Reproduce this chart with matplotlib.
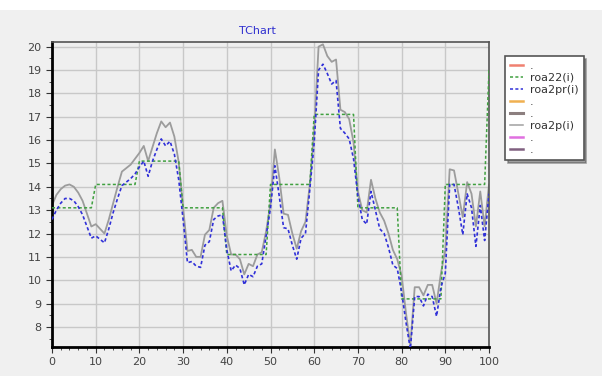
import matplotlib
matplotlib.use("Agg")
import matplotlib.pyplot as plt
from matplotlib.lines import Line2D
from matplotlib.patches import Rectangle
from matplotlib.ticker import MultipleLocator
import numpy as np

# data
x = np.arange(0, 101)

roa22 = ([13.1] * 10 + [14.1] * 10 + [15.1] * 10 + [13.1] * 10 + [11.1] * 10 +
         [14.1] * 10 + [17.1] * 10 + [13.1] * 10 + [9.2] * 10 + [14.1] * 10 + [19.0])

roa2p = [13.2, 13.65, 13.9, 14.05, 14.1, 14.0, 13.75, 13.4, 12.85, 12.3,
         12.4, 12.2, 12.0, 12.6, 13.3, 14.0, 14.65, 14.8, 14.95, 15.2,
         15.45, 15.75, 15.1, 15.7, 16.3, 16.8, 16.55, 16.75, 16.15, 15.05,
         13.1, 11.25, 11.3, 11.0, 11.0, 11.95, 12.15, 13.1, 13.3, 13.4,
         11.9, 11.1, 11.1, 10.9, 10.25, 10.7, 10.6, 11.1, 11.2, 12.1,
         13.3, 15.6, 14.4, 12.85, 12.8, 12.0, 11.35, 12.1, 12.5, 14.1,
         16.4, 20.0, 20.1, 19.6, 19.35, 19.45, 17.3, 17.2, 16.9, 15.9,
         13.8, 13.0, 12.9, 14.3, 13.5, 12.9, 12.55, 12.0, 11.3, 10.9,
         10.2, 8.6, 7.2, 9.7, 9.7, 9.35, 9.8, 9.8, 9.0, 10.3,
         11.3, 14.75, 14.7, 13.7, 12.7, 14.2, 13.7, 12.3, 13.8, 12.3,
         14.1]

roa2pr = [12.6, 13.0, 13.3, 13.5, 13.5, 13.4, 13.15, 12.8, 12.3, 11.8,
          11.9, 11.75, 11.6, 12.2, 12.9, 13.5, 14.05, 14.2, 14.35, 14.55,
          14.85, 15.1, 14.45, 15.1, 15.6, 16.05, 15.75, 15.95, 15.4, 14.3,
          12.6, 10.75, 10.8, 10.6, 10.55, 11.5, 11.65, 12.6, 12.75, 12.8,
          11.3, 10.4, 10.65, 10.5, 9.8, 10.25, 10.15, 10.6, 10.7, 11.9,
          13.1, 14.9, 13.6, 12.25, 12.2, 11.5, 10.9, 11.8, 12.0, 13.9,
          15.9, 19.0, 19.25, 18.85, 18.4, 18.55, 16.5, 16.3, 16.05, 15.2,
          13.6, 12.6, 12.4, 13.8, 13.0, 12.2, 12.0, 11.4, 10.65, 10.5,
          9.5, 8.2, 7.05, 9.3, 9.3, 8.9, 9.4, 9.3, 8.45, 9.7,
          10.3, 14.1, 14.1, 13.1, 11.95, 13.7, 13.1, 11.45, 13.2, 11.7,
          13.7]

legend_labels = [".", "roa22(i)", "roa2pr(i)", ".", ".", "roa2p(i)", ".", "."]
legend_colors = ["#f08070", "#40a040", "#3030d8", "#f0b050", "#8c7f7f",
                 "#a0a0a0", "#e070e0", "#806080"]
legend_styles = ["-", (0, (2, 1.5)), (0, (2, 1.5)), "-", "-", "-", "-", "-"]
legend_widths = [1.8, 1.1, 1.1, 1.8, 2.2, 1.1, 1.8, 1.8]

fig = plt.figure(figsize=(6.02, 3.76), dpi=100, facecolor="#f0f0f0")
fig.patches.append(Rectangle((0, 1 - 10 / 376), 1, 10 / 376, transform=fig.transFigure,
                             facecolor="white", edgecolor="none", zorder=0))

ax = fig.add_axes([52 / 602, 1 - 347 / 376, (489 - 52) / 602, (347 - 42) / 376])
ax.set_facecolor("#efefef")

ax.plot(x, roa22, color="#40a040", lw=1.1, ls=(0, (2, 1.5)), zorder=3)
ax.plot(x, roa2p, color="#9c9c9c", lw=1.3, zorder=2)
ax.plot(x, roa2pr, color="#3030d8", lw=1.2, ls=(0, (2, 1.5)), zorder=4)

ax.set_xlim(0, 100)
ax.set_ylim(7.14, 20.2)
ax.xaxis.set_major_locator(MultipleLocator(10))
ax.xaxis.set_minor_locator(MultipleLocator(2))
ax.yaxis.set_major_locator(MultipleLocator(1))
ax.yaxis.set_minor_locator(MultipleLocator(0.5))
ax.set_yticks(range(8, 21))
ax.grid(True, which="major", color="#c8c8c8", lw=1)
ax.set_axisbelow(True)
ax.tick_params(which="major", length=4, color="#333333", labelsize=8, labelcolor="#444444")
ax.tick_params(which="minor", length=2, color="#333333")

for s in ["left", "bottom"]:
    ax.spines[s].set_color("black")
    ax.spines[s].set_linewidth(2)
for s in ["top", "right"]:
    ax.spines[s].set_color("#555555")
    ax.spines[s].set_linewidth(1.2)

fig.text(257 / 602, 1 - 31 / 376, "TChart", color="#3030d0", fontsize=8,
         ha="center", va="center")

handles = [Line2D([], [], color=c, ls=s, lw=w)
           for c, s, w in zip(legend_colors, legend_styles, legend_widths)]
leg = fig.legend(handles, legend_labels, loc="upper left",
                 bbox_to_anchor=(505 / 602, 1 - 56 / 376), borderaxespad=0,
                 fontsize=8, handlelength=1.2, handletextpad=0.6,
                 labelspacing=0.18, borderpad=0.45, fancybox=False,
                 shadow=True, framealpha=1)
leg.get_frame().set_edgecolor("#555555")
leg.get_frame().set_linewidth(1.2)
for t in leg.get_texts():
    t.set_color("#333333")

fig.savefig("out.png", dpi=100, facecolor=fig.get_facecolor())
